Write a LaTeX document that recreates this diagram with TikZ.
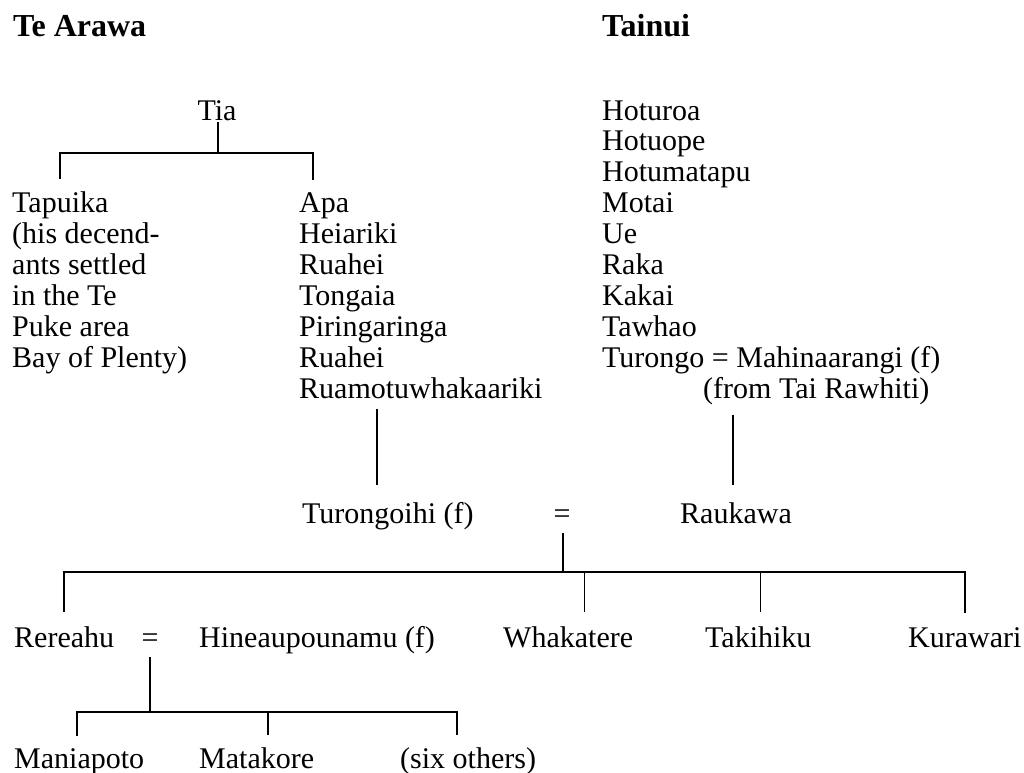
\documentclass[tikz,border=0pt]{standalone}
\usepackage{fontspec}
\setmainfont{Liberation Serif}
\usetikzlibrary{calc}
\begin{document}
\begin{tikzpicture}[x=1bp,y=-1bp,
  txt/.style={anchor=base west,inner sep=0pt,font=\fontsize{30bp}{31bp}\selectfont},
  ctr/.style={anchor=base,inner sep=0pt,font=\fontsize{30bp}{31bp}\selectfont},
  head/.style={anchor=base west,inner sep=0pt,font=\fontsize{32bp}{34bp}\selectfont\bfseries},
  br/.style={line width=2bp},
  stem/.style={line width=1.3bp}]
\useasboundingbox (0,0) rectangle (1024,773);

% headers
\node[head] (tearawa) at (13,37) {Te Arawa};
\node[head] (tainui) at (602,37) {Tainui};

% Te Arawa
\node[ctr] (tia) at (217,120) {Tia};
\node[txt] (tapuika) at (12,212.7) {Tapuika};
\node[txt] (note1) at (12,243.6) {(his decend-};
\node[txt] (note2) at (12,274.5) {ants settled};
\node[txt] (note3) at (12,305.4) {in the Te};
\node[txt] (note4) at (12,336.3) {Puke area};
\node[txt] (note5) at (12,367.2) {Bay of Plenty)};

\node[txt] (apa) at (299,212.7) {Apa};
\node[txt] (heiariki) at (299,243.6) {Heiariki};
\node[txt] (ruaheiA) at (299,274.5) {Ruahei};
\node[txt] (tongaia) at (299,305.4) {Tongaia};
\node[txt] (piringaringa) at (299,336.3) {Piringaringa};
\node[txt] (ruaheiB) at (299,367.2) {Ruahei};
\node[txt] (ruamotu) at (299,398.1) {Ruamotuwhakaariki};

% Tainui
\node[txt] (hoturoa) at (602,120) {Hoturoa};
\node[txt] (hotuope) at (602,150.9) {Hotuope};
\node[txt] (hotumatapu) at (602,181.8) {Hotumatapu};
\node[txt] (motai) at (602,212.7) {Motai};
\node[txt] (ue) at (602,243.6) {Ue};
\node[txt] (raka) at (602,274.5) {Raka};
\node[txt] (kakai) at (602,305.4) {Kakai};
\node[txt] (tawhao) at (602,336.3) {Tawhao};
\node[txt] (turongo) at (602,367.2) {Turongo = Mahinaarangi (f)};
\node[txt] (tairaw) at (703,398.1) {(from Tai Rawhiti)};

% marriage row
\node[txt] (turongoihi) at (302,523) {Turongoihi (f)};
\node[ctr] (eqA) at (562,523) {=};
\node[txt] (raukawa) at (680,523) {Raukawa};

% children row
\node[txt] (rereahu) at (14,647) {Rereahu};
\node[ctr] (eqB) at (150,647) {=};
\node[txt] (hineau) at (199,647) {Hineaupounamu (f)};
\node[txt] (whakatere) at (503,647) {Whakatere};
\node[txt] (takihiku) at (705,647) {Takihiku};
\node[txt] (kurawari) at (908,647) {Kurawari};

% grandchildren row
\node[txt] (maniapoto) at (14,768) {Maniapoto};
\node[txt] (matakore) at (199,768) {Matakore};
\node[txt] (sixothers) at (400,768) {(six others)};

% connectors: Tia
\coordinate (j1) at ($(tia.south)+(1,33)$);
\draw[stem] ($(tia.south)+(1,2)$) -- (j1);
\draw[br] ($(tapuika.north)+(0,-13)$) |- (j1) -| ($(apa.north)+(-11,-13)$);

% to marriage row
\draw[stem] ($(ruamotu.south west)+(78,10)$) -- ($(turongoihi.north west)+(75,-17)$);
\draw[stem] ($(tairaw.south west)+(30,10)$) -- ($(raukawa.north west)+(53,-17)$);

% Raukawa's children
\coordinate (j2) at ($(eqA.south)+(1,49)$);
\draw[stem] ($(eqA.south)+(1,10)$) -- (j2);
\draw[br] ($(rereahu.north)+(0,-14)$) |- (j2) -| ($(kurawari.north)+(0,-14)$);
\draw[stem] ($(whakatere.north)+(16,-14)$) coordinate (wk) -- (wk |- j2);
\draw[stem] ($(takihiku.north)+(2,-14)$) coordinate (tk) -- (tk |- j2);

% Rereahu's children
\coordinate (j3) at ($(eqB.south)+(0,65)$);
\draw[stem] ($(eqB.south)+(0,10)$) -- (j3);
\draw[br] ($(maniapoto.north)+(-2,-12)$) |- (j3) -| ($(sixothers.north)+(-11,-12)$);
\draw[br] ($(matakore.north)+(11,-12)$) coordinate (mk) -- (mk |- j3);
\end{tikzpicture}
\end{document}
